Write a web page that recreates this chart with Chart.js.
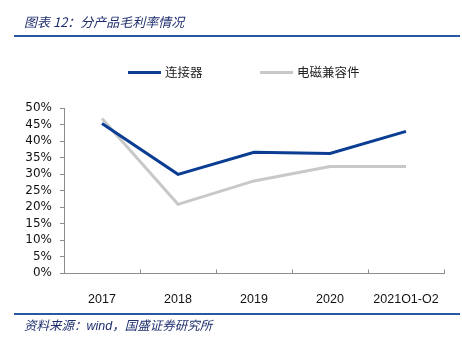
<!DOCTYPE html>
<html>
<head>
<meta charset="utf-8">
<script src="https://cdn.jsdelivr.net/npm/chart.js@4"></script>
<style>
  html, body { margin: 0; padding: 0; background: #fff; }
  #wrap { position: relative; width: 462px; height: 347px; overflow: hidden; }
  #chart { position: absolute; left: 0; top: 0; }
  .title { position: absolute; left: 24px; top: 12px; font: italic 13px "Noto Sans CJK SC", sans-serif; color: #1f2f6e; white-space: nowrap; }
  .rule { position: absolute; left: 14px; width: 446px; height: 2px; background: #2a57a4; }
  .source { position: absolute; left: 24px; top: 315px; font: italic 12.5px "Noto Sans CJK SC", sans-serif; color: #1f2f6e; white-space: nowrap; }
  .source .en { font-family: "Liberation Sans", Arial, sans-serif; }
  .legend { position: absolute; top: 62px; font: 12.5px "Noto Sans CJK SC", sans-serif; color: #222; white-space: nowrap; }
  .legend span.sw { display: inline-block; width: 33px; height: 3px; vertical-align: middle; margin-right: 4px; position: relative; top: -1px; }
</style>
</head>
<body>
<div id="wrap">
  <canvas id="chart" width="462" height="347"></canvas>
  <div class="title">图表 12：分产品毛利率情况</div>
  <div class="rule" style="top:35px"></div>
  <div class="legend" id="lg0" style="left:128px"></div>
  <div class="legend" id="lg1" style="left:260px"></div>
  <div class="rule" style="top:313px"></div>
  <div class="source">资料来源：<span class="en">wind</span>，国盛证券研究所</div>
</div>
<script>
// categories and series (gross margin, %)
const categories = ['2017', '2018', '2019', '2020', '2021Q1-Q2'];
const seriesNames = ['连接器', '电磁兼容件'];
const connector = [45.3, 29.9, 36.6, 36.2, 42.9];
const emc = [46.8, 20.8, 27.9, 32.3, 32.3];
const seriesColors = ['#0b3d93', '#c8c8c8'];
const yTicks = [0, 5, 10, 15, 20, 25, 30, 35, 40, 45, 50];

document.addEventListener('DOMContentLoaded', function() {
    // html legend
    seriesNames.forEach(function(name, i) {
        const el = document.getElementById('lg' + i);
        el.innerHTML = '<span class="sw" style="background:' + seriesColors[i] + '"></span>' + name;
    });

    // upward tick marks on the category axis, at category boundaries
    const xTickMarks = {
        id: 'xTickMarks',
        afterDraw(chart) {
            const x = chart.scales.x;
            const ctx = chart.ctx;
            const half = (x.getPixelForValue(1) - x.getPixelForValue(0)) / 2;
            const y = Math.round(chart.chartArea.bottom) + 0.5;
            ctx.save();
            ctx.strokeStyle = '#8c8c8c';
            ctx.lineWidth = 1;
            ctx.beginPath();
            for (let i = 0; i <= categories.length; i++) {
                const px = Math.round(x.getPixelForValue(0) - half + i * half * 2) + 0.5;
                ctx.moveTo(px, y);
                ctx.lineTo(px, y - 4);
            }
            ctx.stroke();
            ctx.restore();
        }
    };

    const ctx = document.getElementById('chart').getContext('2d');
    const marginChart = new Chart(ctx, {
        type: 'line',
        data: {
            labels: categories,
            datasets: [{
                label: seriesNames[0],
                data: connector,
                borderColor: seriesColors[0],
                backgroundColor: seriesColors[0],
                borderWidth: 3,
                pointRadius: 0,
                tension: 0
            }, {
                label: seriesNames[1],
                data: emc,
                borderColor: seriesColors[1],
                backgroundColor: seriesColors[1],
                borderWidth: 3,
                pointRadius: 0,
                tension: 0
            }]
        },
        options: {
            responsive: false,
            animation: false,
            layout: { padding: { top: 108, left: 0, right: 18, bottom: 44 } },
            plugins: {
                legend: { display: false },
                tooltip: { enabled: false }
            },
            scales: {
                x: {
                    type: 'category',
                    offset: true,
                    grid: { display: false },
                    border: { display: true, color: '#8c8c8c', width: 1 },
                    ticks: {
                        color: '#111',
                        padding: 11,
                        maxRotation: 0,
                        autoSkip: false,
                        font: { family: 'Liberation Sans', size: 12.5 }
                    },
                    afterFit(scale) { scale.height = 30; }
                },
                y: {
                    min: 0,
                    max: 50,
                    afterBuildTicks(scale) { scale.ticks = yTicks.map(v => ({ value: v })); },
                    grid: { drawOnChartArea: false, drawTicks: true, tickLength: 4, color: '#8c8c8c' },
                    border: { display: true, color: '#8c8c8c', width: 1 },
                    ticks: {
                        color: '#111',
                        padding: 8,
                        autoSkip: false,
                        font: { family: 'DejaVu Sans', size: 12 },
                        callback: v => v + '%'
                    },
                    afterFit(scale) { scale.width = 64; }
                }
            }
        },
        plugins: [xTickMarks]
    });
});
</script>
</body>
</html>
